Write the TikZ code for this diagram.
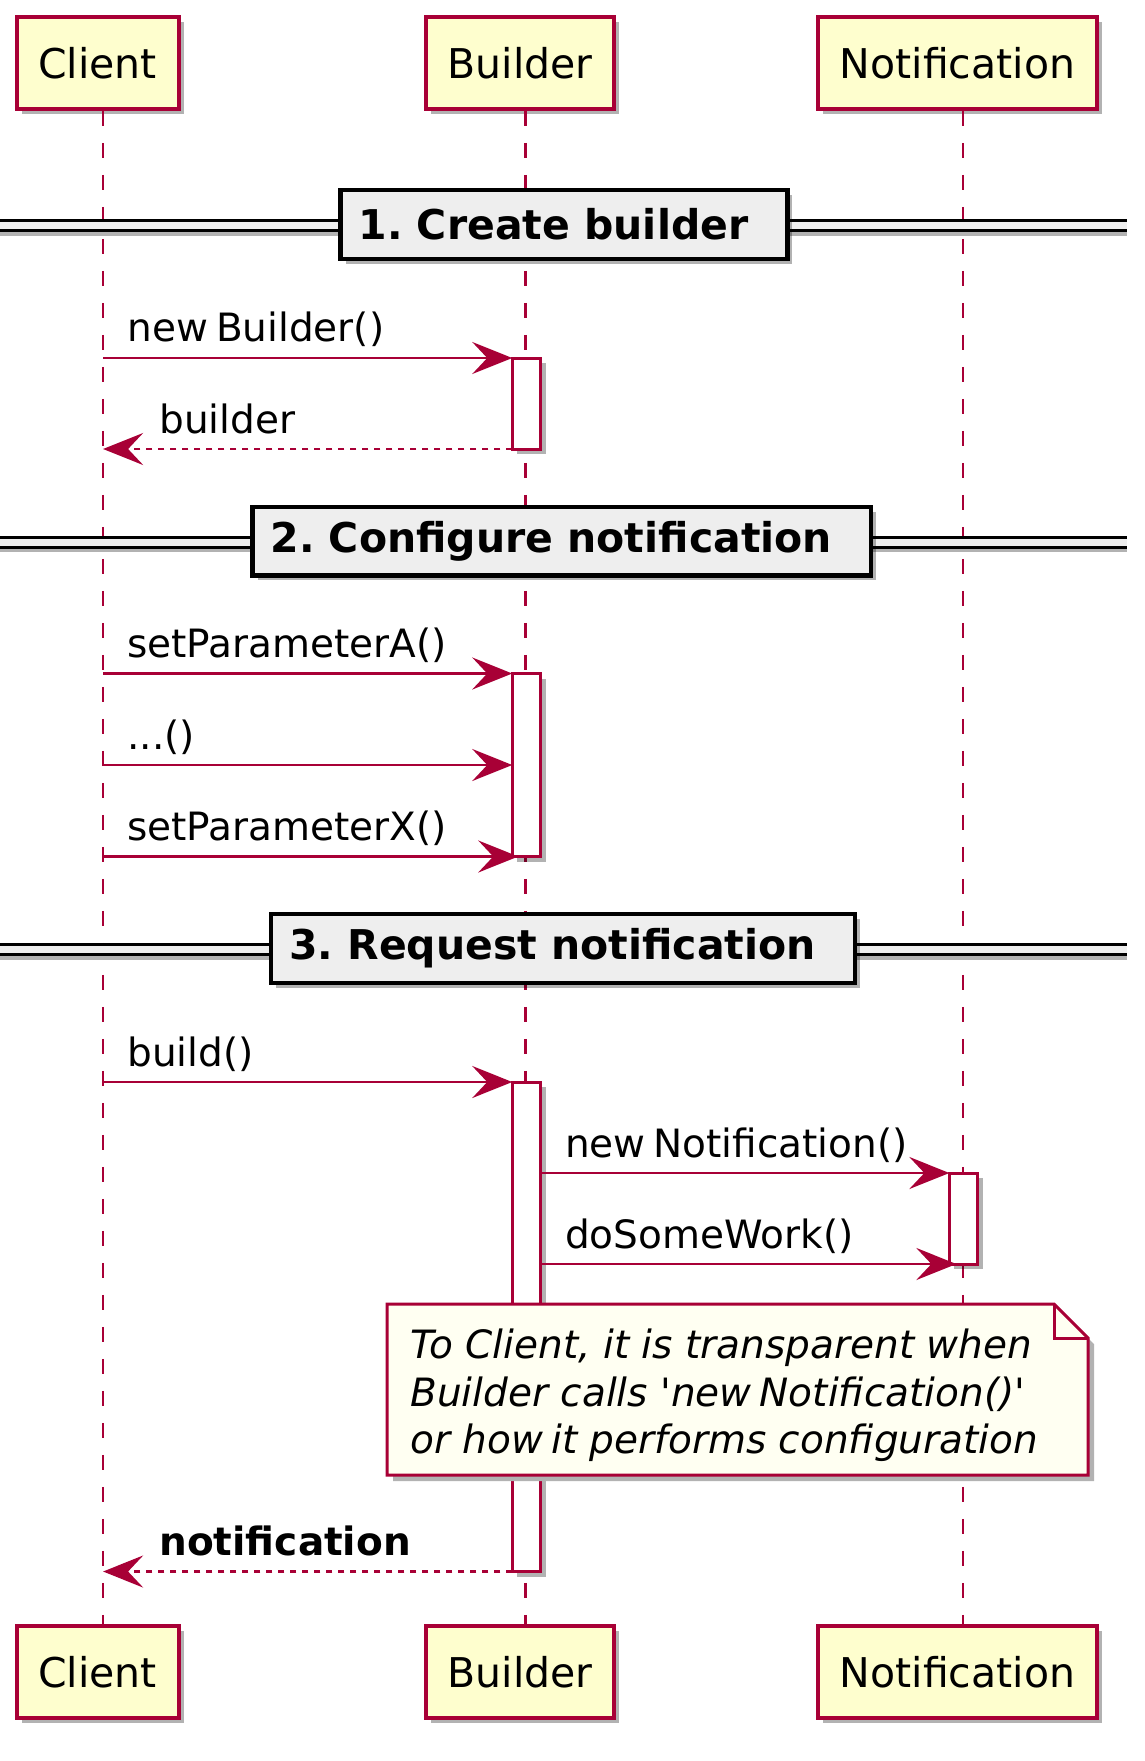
\documentclass[tikz,border=0pt]{standalone}
\usepackage{fontspec}
\setmainfont{DejaVu Sans}
\usetikzlibrary{arrows.meta,shadows}
\frenchspacing

\definecolor{plred}{HTML}{A80036}
\definecolor{plfill}{HTML}{FEFECE}
\definecolor{notefill}{HTML}{FFFFF2}
\definecolor{sepfill}{HTML}{EEEEEE}

\begin{document}
\begin{tikzpicture}[x=0.5pt,y=-0.5pt,
  shade/.style={drop shadow={shadow xshift=2.5pt,shadow yshift=-2.5pt,fill=black,opacity=0.3}},
  part/.style={draw=plred,line width=2pt,fill=plfill,minimum height=46pt,inner xsep=10.8pt,
    font=\fontsize{20.5}{24}\selectfont,shade},
  life/.style={plred,line width=1.3pt,dash pattern=on 7.5pt off 8.5pt},
  act/.style={draw=plred,line width=1.5pt,fill=white,minimum width=14.25pt,inner sep=0pt,outer sep=0pt,shade},
  msg/.style={plred,line width=1.4pt,-{Stealth[length=20pt,width=16pt,inset=7.5pt]}},
  ret/.style={msg,dash pattern=on 3pt off 3pt},
  lbl/.style={anchor=base west,inner sep=0pt,font=\fontsize{19.5}{23.75}\selectfont},
  sepline/.style={line width=1.5pt,double=sepfill,double distance=3.5pt},
  sepbox/.style={draw=black,line width=2.2pt,fill=sepfill,minimum height=34.3pt,inner xsep=9pt,
    font=\bfseries\fontsize{20.5}{24}\selectfont,execute at end node={\hspace{10.5pt}},shade}
]
  \useasboundingbox (0,0) rectangle (1145,1761);

  \node[part] (cTop) at (97.6,62.9) {Client};
  \node[part] (bTop) at (520.3,62.9) {Builder};
  \node[part] (nTop) at (957.5,62.9) {Notification};
  \node[part] (cBot) at (97.6,1672) {Client};
  \node[part] (bBot) at (520.3,1672) {Builder};
  \node[part] (nBot) at (957.5,1672) {Notification};

  \coordinate (cLife) at ([xshift=2.75pt]cTop.south);
  \coordinate (bLife) at ([xshift=2.5pt]bTop.south);
  \coordinate (nLife) at ([xshift=2.75pt]nTop.south);
  \draw[life] (cLife) -- (cLife |- cBot.north);
  \draw[life] (bLife) -- (bLife |- bBot.north);
  \draw[life] (nLife) -- (nLife |- nBot.north);

  \fill[black!30] (0,230) rectangle (1127,236);
  \draw[sepline] (0,225.5) -- (1127,225.5);
  \node[sepbox] (sep1) at (564,224.5) {1. Create builder};

  \node[act,minimum height=45.5pt] (act1) at (526.5,403.5) {};
  \draw[msg] (cLife |- act1.north west) -- (act1.north west);
  \node[lbl] (l1) at (127,341) {new\hspace{4pt}Builder()};
  \draw[ret] (act1.south west) -- (cLife |- act1.south west);
  \node[lbl] (l2) at (159,433) {builder};

  \fill[black!30] (0,546) rectangle (1127,552);
  \draw[sepline] (0,542) -- (1127,542);
  \node[sepbox] (sep2) at (561.8,541) {2. Configure notification};

  \node[act,minimum height=91.5pt] (act2) at (526.5,765) {};
  \draw[msg] (cLife |- act2.north west) -- (act2.north west);
  \node[lbl] (l3) at (127,657) {setParameterA()};
  \draw[msg] (cLife |- act2.west) -- (act2.west);
  \node[lbl] (l4) at (127,749) {...()};
  \draw[msg] (cLife |- act2.south west) -- ([xshift=3pt]act2.south west);
  \node[lbl] (l5) at (127,840) {setParameterX()};

  \fill[black!30] (0,954) rectangle (1127,960);
  \draw[sepline] (0,949.5) -- (1127,949.5);
  \node[sepbox] (sep3) at (563,948.5) {3. Request notification};

  \node[act,minimum height=244.75pt] (act3) at (526.5,1326.75) {};
  \draw[msg] (cLife |- act3.north west) -- (act3.north west);
  \node[lbl] (l6) at (127,1066) {build()};

  \node[act,minimum height=45.5pt] (actN) at (963.6,1218.5) {};
  \draw[msg] (act3.east |- actN.north west) -- (actN.north west);
  \node[lbl] (l7) at (564.6,1157) {new\hspace{4pt}Notification()};
  \draw[msg] (act3.east |- actN.south west) -- ([xshift=3.5pt]actN.south west);
  \node[lbl] (l8) at (564.6,1248) {doSomeWork()};

  \fill[black!30] (393,1310) -- (1060,1310) -- (1094,1344) -- (1094,1481) -- (393,1481) -- cycle;
  \filldraw[draw=plred,fill=notefill,line width=1.5pt]
    (387,1304) -- (1054,1304) -- (1088,1338) -- (1088,1475) -- (387,1475) -- cycle;
  \draw[plred,line width=1.5pt] (1054,1304) -- (1054,1338) -- (1088,1338);
  \node[anchor=west,align=left,inner sep=0pt,font=\itshape\fontsize{19.5}{23.75}\selectfont] (note)
    at (410,1395.5) {To Client, it is transparent when\\Builder calls \textquotesingle new\hspace{4pt}Notification()\textquotesingle\\or how\hspace{4pt}it performs configuration};

  \draw[ret] (act3.south west) -- (cLife |- act3.south west);
  \node[lbl,font=\bfseries\fontsize{19.5}{23.75}\selectfont] (l9) at (159,1555.5) {notification};
\end{tikzpicture}
\end{document}
